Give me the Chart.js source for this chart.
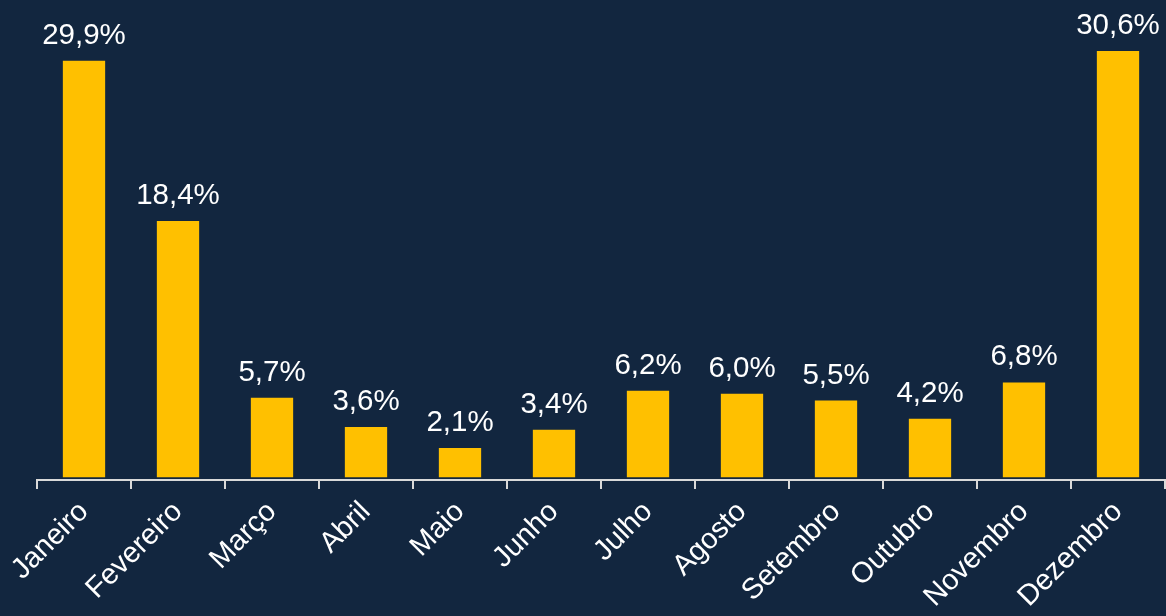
<!DOCTYPE html>
<html>
<head>
<meta charset="utf-8">
<script src="https://cdn.jsdelivr.net/npm/chart.js@4"></script>
<style>
  html, body { margin: 0; padding: 0; background: #12263f; }
  #wrap { width: 1166px; height: 616px; }
</style>
</head>
<body>
<div id="wrap"><canvas id="sazonalidade"></canvas></div>
<script>
const months = ['Janeiro', 'Fevereiro', 'Março', 'Abril', 'Maio', 'Junho', 'Julho', 'Agosto', 'Setembro', 'Outubro', 'Novembro', 'Dezembro'];
const shares = [29.9, 18.4, 5.7, 3.6, 2.1, 3.4, 6.2, 6.0, 5.5, 4.2, 6.8, 30.6];

// draws the percentage above each bar
const valueLabels = {
  id: 'valueLabels',
  afterDatasetsDraw(chart) {
    const ctx = chart.ctx;
    const meta = chart.getDatasetMeta(0);
    ctx.save();
    ctx.fillStyle = '#ffffff';
    ctx.font = '29.5px "Liberation Sans", Arial, sans-serif';
    ctx.textAlign = 'center';
    ctx.textBaseline = 'alphabetic';
    meta.data.forEach((bar, i) => {
      const txt = shares[i].toFixed(1).replace('.', ',') + '%';
      ctx.fillText(txt, bar.x, bar.y - 17);
    });
    ctx.restore();
  }
};

const ctx = document.getElementById('sazonalidade').getContext('2d');
new Chart(ctx, {
  type: 'bar',
  data: {
    labels: months,
    datasets: [{
      data: shares,
      backgroundColor: '#ffc000',
      borderWidth: 0,
      categoryPercentage: 1,
      barPercentage: 0.45
    }]
  },
  options: {
    responsive: true,
    maintainAspectRatio: false,
    animation: false,
    layout: { padding: { left: 37, right: 1, top: 0, bottom: 0 } },
    plugins: {
      legend: { display: false },
      tooltip: { enabled: false }
    },
    scales: {
      y: {
        display: false,
        min: -0.2,
        max: 34.26
      },
      x: {
        afterFit(scale) { scale.height = 136; },
        border: { display: true, color: '#d9d9d9', width: 2 },
        grid: {
          display: true,
          offset: true,
          drawOnChartArea: false,
          drawTicks: true,
          tickLength: 9,
          color: '#d9d9d9',
          lineWidth: 2
        },
        ticks: {
          color: '#ffffff',
          font: { family: '"Liberation Sans", Arial, sans-serif', size: 29 },
          minRotation: 45,
          maxRotation: 45,
          autoSkip: false,
          padding: 6
        }
      }
    }
  },
  plugins: [valueLabels]
});
</script>
</body>
</html>
